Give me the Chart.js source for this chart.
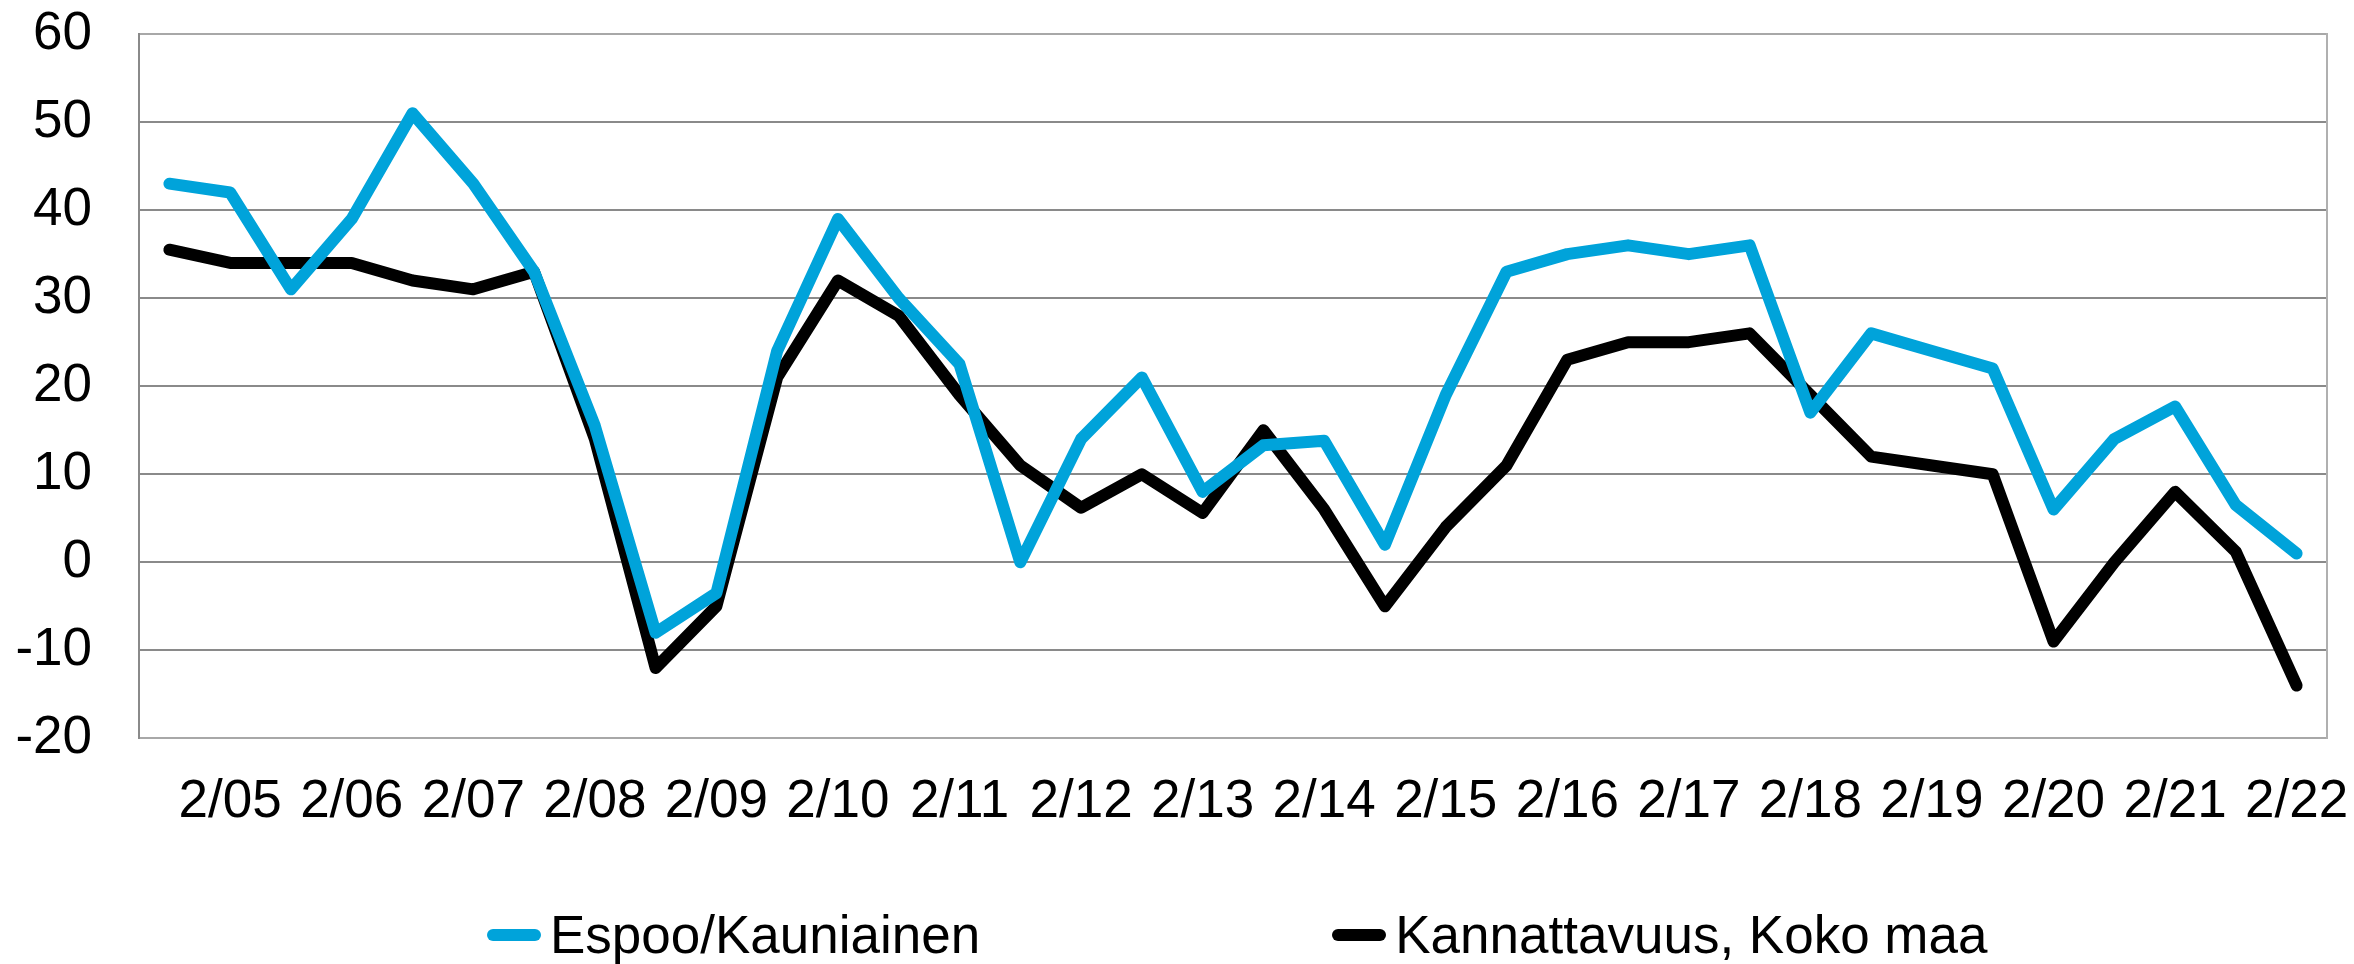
<!DOCTYPE html>
<html>
<head>
<meta charset="utf-8">
<script src="https://cdn.jsdelivr.net/npm/chart.js@4.4.1/dist/chart.umd.min.js"></script>
<style>
  body { margin: 0; background: #fff; font-family: "Liberation Sans", Arial, sans-serif; }
  #wrap { position: relative; width: 2354px; height: 964px; }
  #box { position: absolute; left: 0; top: 0; width: 2354px; height: 869px; }
  #legend { position: absolute; left: 487px; top: 904px; display: flex; gap: 352px; font-size: 53px; color: #000; }
  #legend .item { display: flex; align-items: center; white-space: nowrap; }
  #legend .swatch { width: 54px; height: 12px; border-radius: 6px; margin-right: 9px; }
</style>
</head>
<body>
<div id="wrap">
  <div id="box"><canvas id="chart"></canvas></div>
  <div id="legend"></div>
</div>
<script>
// half-year periods, only the "2/xx" ones get a tick label
var periods = [
  "1/05", "2/05", "1/06", "2/06", "1/07", "2/07", "1/08", "2/08", "1/09", "2/09",
  "1/10", "2/10", "1/11", "2/11", "1/12", "2/12", "1/13", "2/13", "1/14", "2/14",
  "1/15", "2/15", "1/16", "2/16", "1/17", "2/17", "1/18", "2/18", "1/19", "2/19",
  "1/20", "2/20", "1/21", "2/21", "1/22", "2/22"
];

var espoo = [
  43, 42, 31, 39, 51, 43, 33, 15.5, -8, -3.5,
  24, 39, 30, 22.5, 0, 14, 21, 8, 13.3, 13.8,
  2, 19, 33, 35, 36, 35, 36, 17, 26, 24,
  22, 6, 14, 17.7, 6.5, 1
];

var kokoMaa = [
  35.5, 34, 34, 34, 32, 31, 33, 14, -12, -5,
  21, 32, 28, 19, 11, 6.2, 10, 5.6, 15, 6,
  -5, 4, 11, 23, 25, 25, 26, 19, 12, 11,
  10, -9, 0, 8, 1.2, -14
];

var seriesNames = ["Espoo/Kauniainen", "Kannattavuus, Koko maa"];
var seriesColors = ["#00a3da", "#000000"];
var yTicks = [-20, -10, 0, 10, 20, 30, 40, 50, 60];

var font = { family: "'Liberation Sans', Arial, sans-serif", size: 53 };

var ctx = document.getElementById("chart").getContext("2d");
var myChart = new Chart(ctx, {
  type: "line",
  data: {
    labels: periods,
    datasets: [
      {
        label: seriesNames[0],
        data: espoo,
        borderColor: seriesColors[0],
        backgroundColor: seriesColors[0],
        borderWidth: 12,
        borderCapStyle: "round",
        borderJoinStyle: "round",
        pointRadius: 0,
        tension: 0,
        fill: false,
      },
      {
        label: seriesNames[1],
        data: kokoMaa,
        borderColor: seriesColors[1],
        backgroundColor: seriesColors[1],
        borderWidth: 12,
        borderCapStyle: "round",
        borderJoinStyle: "round",
        pointRadius: 0,
        tension: 0,
        fill: false,
      },
    ],
  },
  options: {
    responsive: true,
    maintainAspectRatio: false,
    animation: false,
    layout: { padding: { top: 34, right: 27, bottom: 3, left: 0 } },
    plugins: {
      legend: { display: false },
      tooltip: { enabled: false },
    },
    scales: {
      x: {
        offset: true,
        afterFit: function (scale) {
          scale.paddingLeft = 0;
          scale.paddingRight = 0;
        },
        grid: { display: false, drawTicks: false },
        border: { display: false },
        ticks: {
          autoSkip: false,
          maxRotation: 0,
          padding: 32,
          color: "#000",
          font: font,
          callback: function (val, i) {
            return i % 2 === 1 ? periods[i] : "";
          },
        },
      },
      y: {
        min: yTicks[0],
        max: yTicks[yTicks.length - 1],
        afterBuildTicks: function (scale) {
          scale.ticks = yTicks.map(function (v) { return { value: v }; });
        },
        afterFit: function (scale) {
          scale.width = 139;
          scale.paddingTop = 0;
          scale.paddingBottom = 0;
        },
        grid: {
          drawTicks: false,
          lineWidth: 2,
          color: function (c) {
            var v = c.tick ? c.tick.value : 0;
            return v === 60 || v === -20 ? "#a8a8a8" : "#8a8a8a";
          },
        },
        border: { color: "#8a8a8a", width: 2 },
        ticks: { padding: 47, color: "#000", font: font },
      },
      y2: {
        position: "right",
        min: yTicks[0],
        max: yTicks[yTicks.length - 1],
        afterFit: function (scale) {
          scale.width = 0;
          scale.paddingTop = 0;
          scale.paddingBottom = 0;
        },
        grid: { display: false, drawTicks: false },
        border: { color: "#b0b0b0", width: 2 },
        ticks: { display: false },
      },
    },
  },
});

// legend below the chart
var legend = document.getElementById("legend");
myChart.data.datasets.forEach(function (ds) {
  var item = document.createElement("div");
  item.className = "item";
  var sw = document.createElement("span");
  sw.className = "swatch";
  sw.style.background = ds.borderColor;
  var txt = document.createElement("span");
  txt.textContent = ds.label;
  item.appendChild(sw);
  item.appendChild(txt);
  legend.appendChild(item);
});
</script>
</body>
</html>
